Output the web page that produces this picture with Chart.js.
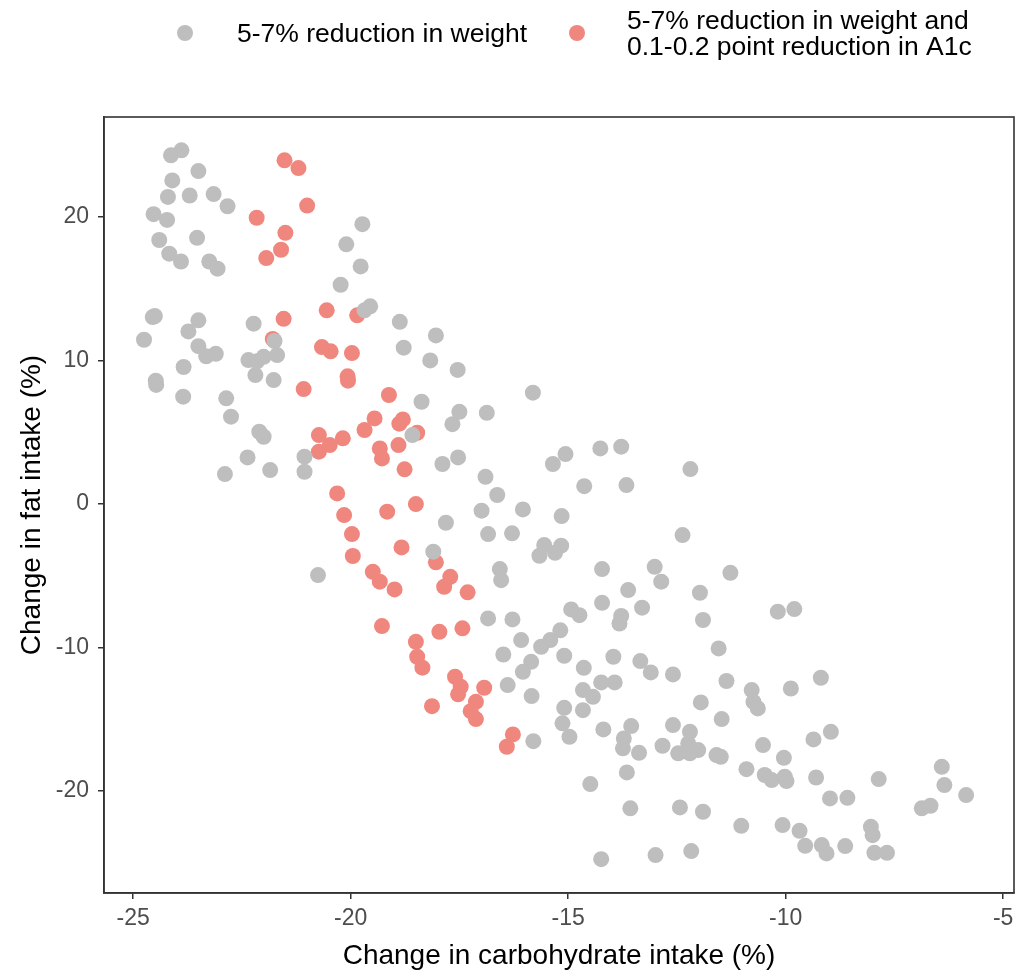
<!DOCTYPE html>
<html>
<head>
<meta charset="utf-8">
<script src="https://cdn.jsdelivr.net/npm/chart.js@4.4.1/dist/chart.umd.min.js"></script>
<style>
  html, body { margin: 0; padding: 0; background: #fff; }
  #wrap { width: 1028px; height: 970px; }
</style>
</head>
<body>
<div id="wrap"><canvas id="scatter"></canvas></div>
<script>
var xTicks = [-25, -20, -15, -10, -5];
var yTicks = [-20, -10, 0, 10, 20];
var seriesNames = ['5-7% reduction in weight', ['5-7% reduction in weight and', '0.1-0.2 point reduction in A1c']];

// grey: weight only
var weightX = [-24.13, -23.89, -23.5, -24.1, -24.2, -23.7, -23.15, -22.83, -24.53, -24.22,
  -24.4, -23.53, -24.17, -23.9, -23.25, -23.06, -19.73, -20.1, -19.77, -20.23,
  -19.55, -19.68, -18.87, -18.78, -24.55, -24.5, -24.75, -23.5, -23.73, -23.5,
  -23.1, -23.32, -23.84, -22.23, -21.75, -22.35, -22.15, -22.0, -21.69, -22.19,
  -21.77, -24.48, -24.47, -23.85, -22.86, -22.75, -22.1, -22.0, -22.37, -22.89,
  -21.85, -21.06, -21.06, -20.75, -18.58, -18.04, -18.17, -17.54, -15.81, -18.37,
  -17.5, -17.66, -16.87, -17.89, -17.53, -16.9, -16.63, -16.99, -16.04, -17.81,
  -16.84, -16.29, -15.35, -15.06, -14.26, -13.78, -14.63, -13.66, -12.19, -15.15,
  -12.37, -15.55, -15.66, -15.16, -15.3, -18.1, -14.22, -16.57, -16.54, -13.01,
  -12.86, -13.62, -11.97, -14.22, -13.3, -14.93, -14.74, -13.78, -13.82, -16.84,
  -16.28, -15.18, -11.9, -11.27, -10.18, -9.8, -16.08, -15.62, -15.41, -16.49,
  -15.09, -15.85, -16.04, -16.39, -15.84, -14.64, -13.96, -13.34, -13.1, -12.59,
  -14.66, -14.43, -14.24, -13.93, -15.09, -14.66, -15.13, -14.97, -15.8, -14.19,
  -13.55, -13.72, -13.74, -13.37, -12.83, -12.59, -12.2, -12.47, -12.2, -12.01,
  -12.24, -11.95, -13.65, -14.49, -13.57, -12.43, -11.9, -14.24, -12.99, -12.17,
  -11.54, -11.36, -10.78, -10.74, -10.64, -9.88, -9.19, -11.47, -10.52, -9.36,
  -8.96, -11.59, -11.49, -10.04, -10.9, -10.48, -10.32, -10.02, -9.98, -9.3,
  -7.86, -6.41, -6.35, -5.85, -6.87, -6.67, -8.98, -8.58, -11.02, -10.07,
  -9.68, -9.55, -9.17, -9.06, -8.63, -8.04, -8.0, -7.96, -7.67];
var weightY = [24.3, 24.65, 23.2, 22.55, 21.4, 21.5, 21.6, 20.75, 20.2, 19.8,
  18.4, 18.55, 17.45, 16.9, 16.9, 16.4, 19.5, 18.1, 16.56, 15.28,
  13.78, 13.5, 12.7, 10.9, 13.03, 13.1, 11.45, 12.8, 12.03, 11.0,
  10.47, 10.3, 9.55, 12.57, 11.36, 10.03, 9.95, 10.26, 10.38, 8.99,
  8.64, 8.6, 8.3, 7.48, 7.37, 6.09, 5.04, 4.69, 3.25, 2.09,
  2.37, 3.3, 2.25, -4.95, 4.81, 11.75, 10.01, 9.35, 7.76, 7.13,
  6.43, 5.57, 6.36, 2.79, 3.25, 1.9, 0.63, -0.46, -0.37, -1.3,
  -2.09, -2.04, 2.79, 3.48, 3.88, 4.0, 1.25, 1.32, 2.44, -0.84,
  -2.16, -2.86, -3.6, -2.9, -3.39, -3.32, -4.53, -4.53, -5.3, -4.37,
  -5.41, -5.99, -6.18, -6.88, -7.22, -7.34, -7.74, -7.8, -8.32, -7.97,
  -8.04, -8.8, -8.08, -4.79, -7.5, -7.32, -9.48, -9.94, -9.48, -10.48,
  -10.57, -10.99, -11.69, -12.61, -13.38, -11.41, -10.64, -10.94, -11.73, -11.87,
  -12.96, -13.43, -12.43, -12.43, -14.2, -14.36, -15.28, -16.22, -16.52, -15.7,
  -15.47, -16.33, -17.02, -17.33, -16.84, -15.4, -15.87, -17.37, -17.37, -17.14,
  -16.68, -13.82, -18.7, -19.51, -21.2, -21.14, -21.44, -24.74, -24.46, -24.18,
  -10.06, -12.33, -12.96, -13.78, -14.24, -12.85, -12.1, -14.98, -16.79, -16.4,
  -15.87, -17.49, -17.61, -17.68, -18.47, -18.88, -19.23, -19.0, -19.3, -19.05,
  -19.16, -18.31, -19.58, -20.28, -21.2, -21.02, -20.51, -20.47, -22.42, -22.37,
  -22.77, -23.81, -23.76, -24.34, -23.83, -22.49, -23.07, -24.3, -24.3];

// red: weight and A1c
var a1cX = [-21.52, -21.2, -21.0, -22.16, -21.5, -21.6, -21.94, -21.54, -20.55, -19.85,
  -21.79, -20.66, -20.46, -19.97, -20.07, -20.06, -21.08, -19.12, -19.45, -19.68,
  -18.88, -18.8, -18.47, -20.73, -20.48, -20.73, -20.18, -19.33, -19.28, -18.9,
  -18.76, -20.31, -20.15, -19.97, -19.95, -19.16, -18.83, -19.49, -19.33, -18.99,
  -19.28, -18.5, -18.04, -17.71, -17.85, -17.31, -17.96, -17.43, -18.5, -18.47,
  -18.35, -17.6, -17.47, -17.53, -16.93, -18.13, -17.12, -17.24, -17.12, -16.27,
  -16.41];
var a1cY = [23.95, 23.41, 20.8, 19.95, 18.9, 17.72, 17.14, 12.91, 13.5, 13.15,
  11.5, 10.94, 10.64, 10.52, 8.9, 8.6, 8.01, 7.6, 5.97, 5.16,
  5.6, 5.9, 4.97, 4.81, 4.11, 3.65, 4.58, 3.88, 3.18, 4.11,
  2.42, 0.74, -0.77, -2.09, -3.62, -0.53, -3.02, -4.72, -5.41, -5.95,
  -8.5, 0.0, -4.06, -5.07, -5.76, -6.15, -8.9, -8.66, -9.6, -10.64,
  -11.4, -12.03, -12.73, -13.26, -12.8, -14.08, -13.78, -14.43, -14.98, -16.05,
  -16.91];

function toPoints(xs, ys) {
  return xs.map(function (x, i) { return { x: x, y: ys[i] }; });
}

var colors = ['#BEBEBE', '#F0877E'];
var fontFamily = '"Liberation Sans", Arial, sans-serif';

var frameAndLegend = {
  id: 'frameAndLegend',
  afterDraw: function (chart) {
    var ctx = chart.ctx;
    var a = chart.chartArea;
    ctx.save();
    ctx.strokeStyle = '#333333';
    ctx.lineWidth = 1.6;
    ctx.strokeRect(a.left, a.top, a.right - a.left, a.bottom - a.top);

    // legend
    ctx.textBaseline = 'middle';
    ctx.textAlign = 'left';
    ctx.font = '26.5px ' + fontFamily;
    ctx.fillStyle = colors[0];
    ctx.beginPath(); ctx.arc(185, 33, 8, 0, Math.PI * 2); ctx.fill();
    ctx.fillStyle = '#000';
    ctx.fillText(seriesNames[0], 237, 35);
    ctx.fillStyle = colors[1];
    ctx.beginPath(); ctx.arc(577, 33, 8, 0, Math.PI * 2); ctx.fill();
    ctx.fillStyle = '#000';
    ctx.fillText(seriesNames[1][0], 627, 22);
    ctx.fillText(seriesNames[1][1], 627, 48);
    ctx.restore();
  }
};

var ctx = document.getElementById('scatter').getContext('2d');
var chart = new Chart(ctx, {
  type: 'scatter',
  data: {
    datasets: [{
      label: '5-7% reduction in weight',
      data: toPoints(weightX, weightY),
      backgroundColor: colors[0],
      borderWidth: 0,
      pointRadius: 8,
      pointHoverRadius: 8
    }, {
      label: '5-7% reduction in weight and 0.1-0.2 point reduction in A1c',
      data: toPoints(a1cX, a1cY),
      backgroundColor: colors[1],
      borderWidth: 0,
      pointRadius: 8,
      pointHoverRadius: 8
    }]
  },
  options: {
    responsive: true,
    maintainAspectRatio: false,
    animation: false,
    layout: { padding: { top: 117, right: 14, left: 0, bottom: 0 } },
    plugins: {
      legend: { display: false },
      tooltip: { enabled: false }
    },
    scales: {
      x: {
        type: 'linear',
        min: -25.67,
        max: -4.75,
        afterBuildTicks: function (scale) {
          scale.ticks = xTicks.map(function (v) { return { value: v }; });
        },
        afterFit: function (scale) { scale.height = 77; },
        grid: { drawOnChartArea: false, drawTicks: true, tickLength: 6, color: '#333333', lineWidth: 1.5 },
        border: { display: true, color: '#333333', width: 1.6 },
        ticks: {
          color: '#4D4D4D',
          font: { family: fontFamily, size: 23 },
          padding: 6,
          maxRotation: 0
        },
        title: {
          display: true,
          text: 'Change in carbohydrate intake (%)',
          color: '#000',
          font: { family: fontFamily, size: 28, lineHeight: 1 },
          padding: { top: 0, bottom: 0 }
        }
      },
      y: {
        type: 'linear',
        min: -27.1,
        max: 26.97,
        afterBuildTicks: function (scale) {
          scale.ticks = yTicks.map(function (v) { return { value: v }; });
        },
        afterFit: function (scale) { scale.width = 104; },
        grid: { drawOnChartArea: false, drawTicks: true, tickLength: 6, color: '#333333', lineWidth: 1.5 },
        border: { display: true, color: '#333333', width: 1.6 },
        ticks: {
          color: '#4D4D4D',
          font: { family: fontFamily, size: 23 },
          padding: 9
        },
        title: {
          display: true,
          text: 'Change in fat intake (%)',
          color: '#000',
          font: { family: fontFamily, size: 28, lineHeight: 1 },
          padding: { top: 18, bottom: 0 }
        }
      }
    }
  },
  plugins: [frameAndLegend]
});
</script>
</body>
</html>
